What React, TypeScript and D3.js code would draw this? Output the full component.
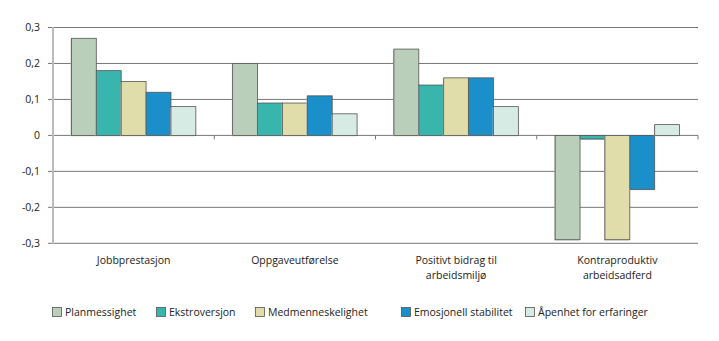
import React from "react";
import * as d3 from "d3";

const categories: string[][] = [
  ["Jobbprestasjon"],
  ["Oppgaveutførelse"],
  ["Positivt bidrag til", "arbeidsmiljø"],
  ["Kontraproduktiv", "arbeidsadferd"],
];
const seriesNames = [
  "Planmessighet",
  "Ekstroversjon",
  "Medmenneskelighet",
  "Emosjonell stabilitet",
  "Åpenhet for erfaringer",
];
const seriesColors = ["#b9cfba", "#38b5ad", "#e0ddab", "#1a8fca", "#d6ebe3"];
const planmessighet = [0.27, 0.2, 0.24, -0.29];
const ekstroversjon = [0.18, 0.09, 0.14, -0.01];
const medmenneskelighet = [0.15, 0.09, 0.16, -0.29];
const emosjonell = [0.12, 0.11, 0.16, -0.15];
const aapenhet = [0.08, 0.06, 0.08, 0.03];
const yTicks = [-0.3, -0.2, -0.1, 0, 0.1, 0.2, 0.3];
const legendX = [52, 156, 255, 401, 525];

const series = [planmessighet, ekstroversjon, medmenneskelighet, emosjonell, aapenhet];

export default function App() {
  const W = 719, H = 341;
  const x0 = 53, x1 = 698;
  const y = d3.scaleLinear().domain([-0.3, 0.3]).range([243.3, 27.5]);
  const xc = d3.scaleBand<number>().domain(d3.range(categories.length)).range([x0, x1]).paddingInner(0).paddingOuter(0);
  const xs = d3.scaleBand<number>().domain(d3.range(series.length)).range([0, xc.bandwidth()]).paddingOuter(0.74).paddingInner(0);
  const fmt = (v: number) => (v === 0 ? "0" : d3.format(".1f")(v).replace(".", ",").replace("\u2212", "-"));
  const font = "'Open Sans', 'Noto Sans', sans-serif";
  return (
    <svg width={W} height={H} style={{ position: "absolute", left: 0, top: 0 }} fontFamily={font}>
      <rect width={W} height={H} fill="#fff" />
      {yTicks.map((t) => (
        <g key={t}>
          <line x1={48} x2={x1} y1={y(t)} y2={y(t)} stroke="#777" strokeWidth={1} />
          <text x={40} y={y(t)} dy="0.35em" textAnchor="end" fontSize={10.5} fill="#222">
            {fmt(t)}
          </text>
        </g>
      ))}
      {d3.range(categories.length + 1).map((i) => (
        <line key={i} x1={x0 + i * xc.bandwidth()} x2={x0 + i * xc.bandwidth()} y1={y(0)} y2={y(0) + 4} stroke="#777" />
      ))}
      {series.map((vals, si) =>
        vals.map((v, ci) => {
          const bx = (xc(ci) as number) + (xs(si) as number);
          const top = y(Math.max(v, 0));
          const h = Math.abs(y(v) - y(0));
          return (
            <g key={`${si}-${ci}`}>
              <rect x={bx - 0.8} y={top + 0.8} width={xs.bandwidth()} height={h} fill="#bbb" />
              <rect x={bx} y={top} width={xs.bandwidth()} height={h} fill={seriesColors[si]} stroke="#555" strokeWidth={0.8} />
            </g>
          );
        })
      )}
      <line x1={x0} x2={x0} y1={27} y2={244} stroke="#bbb" strokeWidth={2} />
      {categories.map((lines, ci) => (
        <text key={ci} x={(xc(ci) as number) + xc.bandwidth() / 2} y={264} textAnchor="middle" fontSize={10.5} fill="#222">
          {lines.map((l, li) => (
            <tspan key={li} x={(xc(ci) as number) + xc.bandwidth() / 2} dy={li === 0 ? 0 : 14.5}>
              {l}
            </tspan>
          ))}
        </text>
      ))}
      {seriesNames.map((n, i) => (
        <g key={n} transform={`translate(${legendX[i]},307)`}>
          <rect x={0.5} y={0.5} width={9} height={9} fill={seriesColors[i]} stroke="#555" strokeWidth={0.8} />
          <text x={13} y={5} dy="0.35em" fontSize={10.5} fill="#222">
            {n}
          </text>
        </g>
      ))}
    </svg>
  );
}
